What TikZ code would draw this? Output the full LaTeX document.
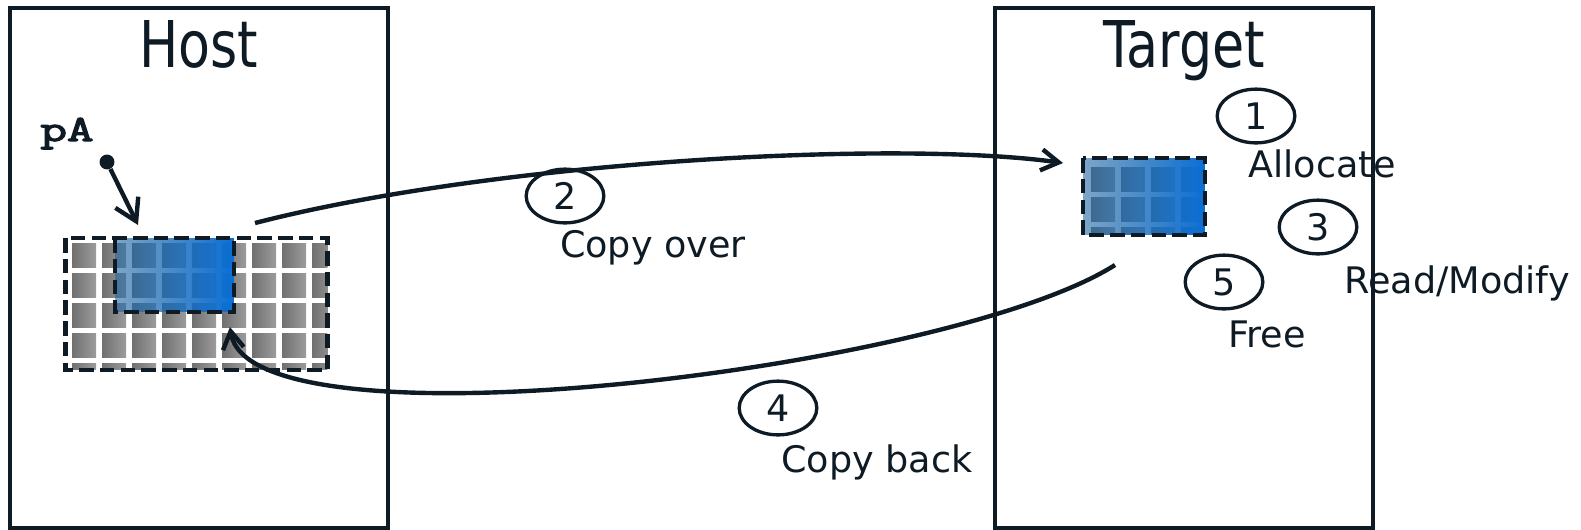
\documentclass[tikz,border=0pt]{standalone}
\usepackage{fontspec}
\setmainfont{DejaVu Sans}
\newfontfamily\pafont{Latin Modern Mono}[FakeBold=3]
\usetikzlibrary{arrows.meta,shapes.geometric,fadings}

\definecolor{ink}{HTML}{0E1B25}
\definecolor{cellL}{HTML}{707070}
\definecolor{cellR}{HTML}{9C9C9C}
\definecolor{blueL}{HTML}{1E64A0}
\definecolor{blueR}{HTML}{0A6FD6}

% blue overlay: see-through on the left, solid on the right
\tikzfading[name=bluefade, left color=transparent!42, right color=transparent!0]

\tikzset{
  panelbox/.style={draw=ink, line width=2.5pt},
  paneltitle/.style={anchor=base, font=\fontsize{36.7}{40}\selectfont, text=ink, inner sep=0pt},
  steptext/.style={anchor=base, font=\fontsize{20.8}{24}\selectfont, text=ink, inner sep=0pt},
  stepno/.style={ellipse, draw=ink, line width=1.9pt, minimum width=44.2pt,
    minimum height=30.6pt, inner sep=0pt, font=\fontsize{20.8}{24}\selectfont, text=ink},
  dashedge/.style={draw=ink, line width=2.5pt, dash pattern=on 8.2pt off 3.6pt},
  flowarrow/.style={draw=ink, line width=2.5pt, -{Straight Barb[length=10pt,width=12pt]}},
  cell/.style={left color=cellL, right color=cellR},
  blockarea/.style={inner sep=0pt, outer sep=0pt},
}

\begin{document}
\begin{tikzpicture}[x=0.02cm, y=-0.02cm]
\useasboundingbox (0,0) rectangle (1581,529);

% host and target panels
\draw[panelbox] (10,8) rectangle (388,528);
\draw[panelbox] (995,8) rectangle (1373,528);
\node[paneltitle] (host) at (199,67) {\scalebox{0.81}[1]{Host}};
\node[paneltitle] (target) at (1184,67) {\scalebox{0.81}[1]{Target}};

% host array
\node[blockarea, minimum width=149.1pt, minimum height=74.8pt] (harr) at (196.5,304) {};
\begin{scope}
  \clip (harr.north west) rectangle (harr.south east);
  \foreach \i in {0,...,8}
    \foreach \j in {0,...,4}
      \shade[cell] ({72+30*\i},{243+30*\j}) rectangle +(24,24);
\end{scope}

% part of the host array that is sent over
\node[blockarea, minimum width=67.5pt, minimum height=42.0pt] (hblk) at (174.5,275) {};
\shade[left color=blueL, right color=blueR, path fading=bluefade]
  (hblk.north west) rectangle (hblk.south east);
\draw[dashedge] (harr.north west) rectangle (harr.south east);
\draw[dashedge] (hblk.north west) rectangle (hblk.south east);

% device copy
\node[blockarea, minimum width=69.2pt, minimum height=43.7pt] (tblk) at (1144,196.5) {};
\begin{scope}
  \clip (tblk.north west) rectangle (tblk.south east);
  \foreach \i in {0,...,3}
    \foreach \j in {0,...,2}
      \shade[cell] ({1091+30*\i},{167+30*\j}) rectangle +(24,24);
\end{scope}
\shade[left color=blueL, right color=blueR, path fading=bluefade]
  (tblk.north west) rectangle (tblk.south east);
\draw[dashedge] (tblk.north west) rectangle (tblk.south east);

% pointer pA
\node[anchor=base, inner sep=0pt, text=ink, font=\pafont\fontsize{21}{24}\selectfont] (pa) at (67,141) {\scalebox{1.4}[1]{pA}};
\node[circle, fill=ink, inner sep=0pt, minimum size=8.5pt] (dot) at (107,162) {};
\coordinate (patip) at (138,225);
\draw[draw=ink, line width=2.5pt, -{Straight Barb[length=12pt,width=14.5pt]}] (dot) -- (patip);

% transfers
\coordinate (overstart) at (255,223);
\coordinate (overend) at (1063,163);
\draw[flowarrow] (overstart) .. controls (500,160) and (900,140) .. (overend);
\coordinate (backstart) at (1115,265);
\coordinate (backend) at (230,327);
\draw[flowarrow] (backstart) .. controls (950,370) and (250,455) .. (backend);

% numbered steps
\node[stepno] (s1) at (1256,116) {1};
\node[steptext] (t1) at (1322,177) {Allocate};
\node[stepno] (s2) at (565,196) {2};
\node[steptext] (t2) at (653,257) {Copy over};
\node[stepno] (s3) at (1318,227) {3};
\node[steptext] (t3) at (1457,293) {Read/Modify};
\node[stepno] (s4) at (778,408) {4};
\node[steptext] (t4) at (877,472) {Copy back};
\node[stepno] (s5) at (1224,282) {5};
\node[steptext] (t5) at (1267,347) {Free};
\end{tikzpicture}
\end{document}
